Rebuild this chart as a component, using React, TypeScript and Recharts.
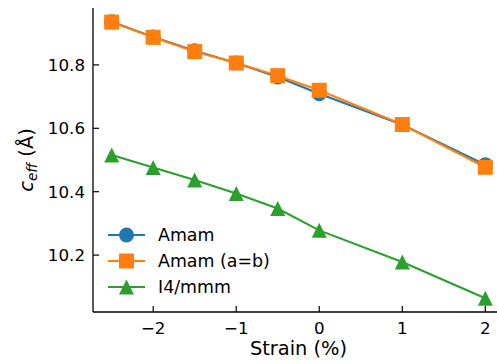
import React from "react";
import { Legend, Line, LineChart, XAxis, YAxis } from "recharts";

const strain = [-2.5, -2, -1.5, -1, -0.5, 0, 1, 2];
const amam = [10.936, 10.888, 10.845, 10.806, 10.762, 10.709, 10.611, 10.485];
const amamAB = [10.935, 10.887, 10.842, 10.806, 10.766, 10.72, 10.612, 10.477];
const i4mmm = [10.516, 10.476, 10.437, 10.394, 10.347, 10.278, 10.178, 10.064];

const xTicks = [-2, -1, 0, 1, 2];
const yTicks = [10.2, 10.4, 10.6, 10.8];

const data = strain.map((s, i) => ({
  strain: s,
  amam: amam[i],
  amamAB: amamAB[i],
  i4mmm: i4mmm[i],
}));

const BLUE = "#1f77b4";
const ORANGE = "#ff7f0e";
const GREEN = "#2ca02c";
const FONT = "'DejaVu Sans', sans-serif";
const MS = 15; // marker size

function Marker({ kind, cx, cy, color }: { kind: string; cx: number; cy: number; color: string }) {
  const h = MS / 2;
  if (kind === "circle") return <circle cx={cx} cy={cy} r={h} fill={color} />;
  if (kind === "square")
    return <rect x={cx - h} y={cy - h} width={MS} height={MS} fill={color} />;
  return (
    <polygon
      points={`${cx},${cy - h} ${cx - h},${cy + h} ${cx + h},${cy + h}`}
      fill={color}
    />
  );
}

const dot = (kind: string, color: string) => (p: any) =>
  <Marker key={`${kind}-${p.index}`} kind={kind} cx={p.cx} cy={p.cy} color={color} />;

const fmtX = (v: number) => (v < 0 ? `\u2212${Math.abs(v)}` : String(v));

function XTick({ x, y, payload }: any) {
  return (
    <g>
      <line x1={x} x2={x} y1={y} y2={y - 6} stroke="#000" strokeWidth={1.2} />
      <text x={x} y={y + 22} textAnchor="middle" fontSize={16.7} fontFamily={FONT} fill="#000">
        {fmtX(payload.value)}
      </text>
    </g>
  );
}

function YTick({ x, y, payload }: any) {
  return (
    <g>
      <line x1={x} x2={x + 6} y1={y} y2={y} stroke="#000" strokeWidth={1.2} />
      <text x={x - 8} y={y} dy="0.36em" textAnchor="end" fontSize={16.7} fontFamily={FONT} fill="#000">
        {payload.value.toFixed(1)}
      </text>
    </g>
  );
}

function YLabel({ viewBox }: any) {
  const cx = viewBox.x + 33;
  const cy = viewBox.y + viewBox.height / 2;
  return (
    <text
      transform={`translate(${cx},${cy}) rotate(-90)`}
      textAnchor="middle"
      fontSize={19.4}
      fontFamily={FONT}
      fill="#000"
    >
      <tspan fontStyle="italic">c</tspan>
      <tspan fontStyle="italic" fontSize={13.6} dy={4}>eff</tspan>
      <tspan dy={-4}> (Å)</tspan>
    </text>
  );
}

const legendItems = [
  { label: "Amam", color: BLUE, kind: "circle" },
  { label: "Amam (a=b)", color: ORANGE, kind: "square" },
  { label: "I4/mmm", color: GREEN, kind: "triangle" },
];

function LegendBox() {
  return (
    <div style={{ fontFamily: FONT, fontSize: 17.4 }}>
      {legendItems.map((it) => (
        <div key={it.label} style={{ display: "flex", alignItems: "center", height: 26 }}>
          <svg width={50} height={26}>
            <line x1={0} x2={37} y1={13} y2={13} stroke={it.color} strokeWidth={2.1} />
            <Marker kind={it.kind} cx={18.5} cy={13} color={it.color} />
          </svg>
          <span style={{ whiteSpace: "nowrap" }}>{it.label}</span>
        </div>
      ))}
    </div>
  );
}

export default function App() {
  return (
    <div
      style={{
        position: "absolute",
        left: 0,
        top: 0,
        width: 497,
        height: 364,
        overflow: "hidden",
        background: "#fff",
      }}
    >
      <LineChart
        width={510}
        height={364}
        data={data}
        margin={{ top: 8, right: 6, bottom: 0, left: 0 }}
      >
        <XAxis
          dataKey="strain"
          type="number"
          domain={[-2.725, 2.225]}
          ticks={xTicks}
          allowDataOverflow
          height={52}
          tickSize={0}
          tickMargin={0}
          tickLine={false}
          tick={<XTick />}
          axisLine={{ stroke: "#000", strokeWidth: 1.3 }}
          label={{
            value: "Strain (%)",
            position: "insideBottom",
            offset: 9,
            fontSize: 19.4,
            fontFamily: FONT,
            fill: "#000",
          }}
        />
        <XAxis
          xAxisId="top"
          orientation="top"
          dataKey="strain"
          type="number"
          domain={[-2.725, 2.225]}
          height={0}
          tick={false}
          tickLine={false}
          axisLine={{ stroke: "#000", strokeWidth: 1.3 }}
        />
        <YAxis
          type="number"
          domain={[10.0205, 10.9795]}
          ticks={yTicks}
          allowDataOverflow
          width={93}
          tickSize={0}
          tickMargin={0}
          tickLine={false}
          tick={<YTick />}
          axisLine={{ stroke: "#000", strokeWidth: 1.3 }}
          label={{ content: <YLabel /> }}
        />
        <Legend
          layout="horizontal"
          verticalAlign="middle"
          align="center"
          wrapperStyle={{ left: 108, top: 222, width: "auto" }}
          content={<LegendBox />}
        />
        <Line
          dataKey="amam"
          name="Amam"
          stroke={BLUE}
          strokeWidth={2.1}
          dot={dot("circle", BLUE)}
          activeDot={false}
          isAnimationActive={false}
        />
        <Line
          dataKey="amamAB"
          name="Amam (a=b)"
          stroke={ORANGE}
          strokeWidth={2.1}
          dot={dot("square", ORANGE)}
          activeDot={false}
          isAnimationActive={false}
        />
        <Line
          dataKey="i4mmm"
          name="I4/mmm"
          stroke={GREEN}
          strokeWidth={2.1}
          dot={dot("triangle", GREEN)}
          activeDot={false}
          isAnimationActive={false}
        />
      </LineChart>
    </div>
  );
}
